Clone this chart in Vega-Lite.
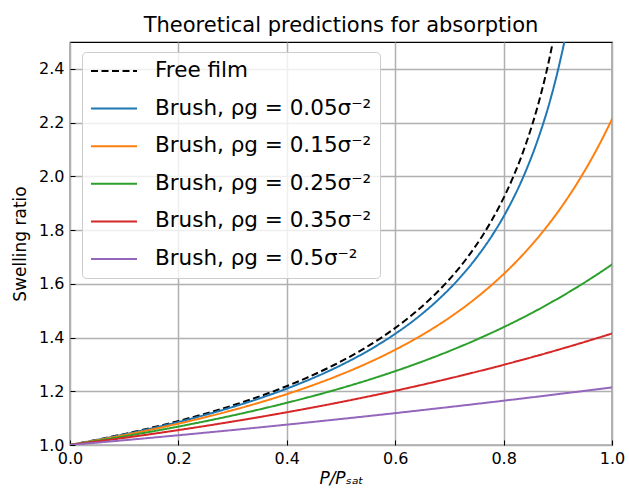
{
  "$schema": "https://vega.github.io/schema/vega-lite/v6.json",
  "width": 542,
  "height": 403,
  "autosize": {"type": "none"},
  "padding": {"left": 70, "top": 42, "right": 17, "bottom": 46},
  "background": "white",
  "config": {
    "font": "DejaVu Sans",
    "view": {"stroke": "black", "strokeWidth": 1.2},
    "axis": {
      "domain": false,
      "grid": true,
      "gridColor": "#b0b0b0",
      "gridWidth": 1.5,
      "tickColor": "black",
      "tickSize": -5,
      "tickWidth": 1,
      "labelFont": "DejaVu Sans",
      "labelFontSize": 16,
      "labelColor": "black",
      "titleFont": "DejaVu Sans",
      "titleFontSize": 17,
      "titleFontWeight": "normal",
      "titleColor": "black"
    },
    "legend": {
      "labelFont": "DejaVu Sans",
      "labelFontSize": 21.5,
      "labelColor": "black",
      "symbolType": "stroke",
      "symbolSize": 2116,
      "symbolStrokeWidth": 2,
      "labelOffset": 17,
      "clipHeight": 22,
      "rowPadding": 15.6,
      "padding": 8,
      "fillColor": "rgba(255,255,255,0.8)",
      "strokeColor": "#cccccc",
      "cornerRadius": 4,
      "labelLimit": 400
    },
    "title": {"font": "DejaVu Sans", "fontSize": 21, "fontWeight": "normal", "color": "black", "offset": 6}
  },
  "title": "Theoretical predictions for absorption",
  "datasets": {
    "curves": [
      {"series": "Free film", "x": 0, "y": 1},
      {"series": "Free film", "x": 0.0518, "y": 1.0204},
      {"series": "Free film", "x": 0.1258, "y": 1.0526},
      {"series": "Free film", "x": 0.1957, "y": 1.087},
      {"series": "Free film", "x": 0.2616, "y": 1.1236},
      {"series": "Free film", "x": 0.3236, "y": 1.1628},
      {"series": "Free film", "x": 0.3819, "y": 1.2048},
      {"series": "Free film", "x": 0.4366, "y": 1.25},
      {"series": "Free film", "x": 0.488, "y": 1.2987},
      {"series": "Free film", "x": 0.5361, "y": 1.3514},
      {"series": "Free film", "x": 0.581, "y": 1.4085},
      {"series": "Free film", "x": 0.6229, "y": 1.4706},
      {"series": "Free film", "x": 0.662, "y": 1.5385},
      {"series": "Free film", "x": 0.6983, "y": 1.6129},
      {"series": "Free film", "x": 0.732, "y": 1.6949},
      {"series": "Free film", "x": 0.7631, "y": 1.7857},
      {"series": "Free film", "x": 0.7918, "y": 1.8868},
      {"series": "Free film", "x": 0.8182, "y": 2.0},
      {"series": "Free film", "x": 0.8424, "y": 2.1277},
      {"series": "Free film", "x": 0.8645, "y": 2.2727},
      {"series": "Free film", "x": 0.8781, "y": 2.381},
      {"series": "Free film", "x": 0.8908, "y": 2.5},
      {"series": "Free film", "x": 0.9027, "y": 2.6316},
      {"series": "Free film", "x": 0.919, "y": 2.8571},

      {"series": "Brush, ρg = 0.05σ⁻²", "x": 0, "y": 1},
      {"series": "Brush, ρg = 0.05σ⁻²", "x": 0.0537, "y": 1.0204},
      {"series": "Brush, ρg = 0.05σ⁻²", "x": 0.1303, "y": 1.0526},
      {"series": "Brush, ρg = 0.05σ⁻²", "x": 0.2024, "y": 1.087},
      {"series": "Brush, ρg = 0.05σ⁻²", "x": 0.2701, "y": 1.1236},
      {"series": "Brush, ρg = 0.05σ⁻²", "x": 0.3337, "y": 1.1628},
      {"series": "Brush, ρg = 0.05σ⁻²", "x": 0.3934, "y": 1.2048},
      {"series": "Brush, ρg = 0.05σ⁻²", "x": 0.4493, "y": 1.25},
      {"series": "Brush, ρg = 0.05σ⁻²", "x": 0.5016, "y": 1.2987},
      {"series": "Brush, ρg = 0.05σ⁻²", "x": 0.5505, "y": 1.3514},
      {"series": "Brush, ρg = 0.05σ⁻²", "x": 0.5961, "y": 1.4085},
      {"series": "Brush, ρg = 0.05σ⁻²", "x": 0.6387, "y": 1.4706},
      {"series": "Brush, ρg = 0.05σ⁻²", "x": 0.6782, "y": 1.5385},
      {"series": "Brush, ρg = 0.05σ⁻²", "x": 0.715, "y": 1.6129},
      {"series": "Brush, ρg = 0.05σ⁻²", "x": 0.7491, "y": 1.6949},
      {"series": "Brush, ρg = 0.05σ⁻²", "x": 0.7807, "y": 1.7857},
      {"series": "Brush, ρg = 0.05σ⁻²", "x": 0.8099, "y": 1.8868},
      {"series": "Brush, ρg = 0.05σ⁻²", "x": 0.8368, "y": 2.0},
      {"series": "Brush, ρg = 0.05σ⁻²", "x": 0.8616, "y": 2.1277},
      {"series": "Brush, ρg = 0.05σ⁻²", "x": 0.8845, "y": 2.2727},
      {"series": "Brush, ρg = 0.05σ⁻²", "x": 0.8986, "y": 2.381},
      {"series": "Brush, ρg = 0.05σ⁻²", "x": 0.912, "y": 2.5},
      {"series": "Brush, ρg = 0.05σ⁻²", "x": 0.9247, "y": 2.6316},
      {"series": "Brush, ρg = 0.05σ⁻²", "x": 0.9424, "y": 2.8571},

      {"series": "Brush, ρg = 0.15σ⁻²", "x": 0, "y": 1},
      {"series": "Brush, ρg = 0.15σ⁻²", "x": 0.0571, "y": 1.0204},
      {"series": "Brush, ρg = 0.15σ⁻²", "x": 0.1388, "y": 1.0526},
      {"series": "Brush, ρg = 0.15σ⁻²", "x": 0.216, "y": 1.087},
      {"series": "Brush, ρg = 0.15σ⁻²", "x": 0.289, "y": 1.1236},
      {"series": "Brush, ρg = 0.15σ⁻²", "x": 0.3579, "y": 1.1628},
      {"series": "Brush, ρg = 0.15σ⁻²", "x": 0.4229, "y": 1.2048},
      {"series": "Brush, ρg = 0.15σ⁻²", "x": 0.4843, "y": 1.25},
      {"series": "Brush, ρg = 0.15σ⁻²", "x": 0.5423, "y": 1.2987},
      {"series": "Brush, ρg = 0.15σ⁻²", "x": 0.597, "y": 1.3514},
      {"series": "Brush, ρg = 0.15σ⁻²", "x": 0.6487, "y": 1.4085},
      {"series": "Brush, ρg = 0.15σ⁻²", "x": 0.6976, "y": 1.4706},
      {"series": "Brush, ρg = 0.15σ⁻²", "x": 0.7438, "y": 1.5385},
      {"series": "Brush, ρg = 0.15σ⁻²", "x": 0.7876, "y": 1.6129},
      {"series": "Brush, ρg = 0.15σ⁻²", "x": 0.8293, "y": 1.6949},
      {"series": "Brush, ρg = 0.15σ⁻²", "x": 0.869, "y": 1.7857},
      {"series": "Brush, ρg = 0.15σ⁻²", "x": 0.907, "y": 1.8868},
      {"series": "Brush, ρg = 0.15σ⁻²", "x": 0.9435, "y": 2.0},
      {"series": "Brush, ρg = 0.15σ⁻²", "x": 0.979, "y": 2.1277},
      {"series": "Brush, ρg = 0.15σ⁻²", "x": 0.9906, "y": 2.1739},
      {"series": "Brush, ρg = 0.15σ⁻²", "x": 0.9964, "y": 2.1978},
      {"series": "Brush, ρg = 0.15σ⁻²", "x": 1.0022, "y": 2.2222},

      {"series": "Brush, ρg = 0.25σ⁻²", "x": 0, "y": 1},
      {"series": "Brush, ρg = 0.25σ⁻²", "x": 0.0645, "y": 1.0204},
      {"series": "Brush, ρg = 0.25σ⁻²", "x": 0.1575, "y": 1.0526},
      {"series": "Brush, ρg = 0.25σ⁻²", "x": 0.2461, "y": 1.087},
      {"series": "Brush, ρg = 0.25σ⁻²", "x": 0.3307, "y": 1.1236},
      {"series": "Brush, ρg = 0.25σ⁻²", "x": 0.4114, "y": 1.1628},
      {"series": "Brush, ρg = 0.25σ⁻²", "x": 0.4887, "y": 1.2048},
      {"series": "Brush, ρg = 0.25σ⁻²", "x": 0.5627, "y": 1.25},
      {"series": "Brush, ρg = 0.25σ⁻²", "x": 0.6337, "y": 1.2987},
      {"series": "Brush, ρg = 0.25σ⁻²", "x": 0.7021, "y": 1.3514},
      {"series": "Brush, ρg = 0.25σ⁻²", "x": 0.7681, "y": 1.4085},
      {"series": "Brush, ρg = 0.25σ⁻²", "x": 0.8322, "y": 1.4706},
      {"series": "Brush, ρg = 0.25σ⁻²", "x": 0.8946, "y": 1.5385},
      {"series": "Brush, ρg = 0.25σ⁻²", "x": 0.9558, "y": 1.6129},
      {"series": "Brush, ρg = 0.25σ⁻²", "x": 0.9962, "y": 1.6667},
      {"series": "Brush, ρg = 0.25σ⁻²", "x": 1.0163, "y": 1.6949},

      {"series": "Brush, ρg = 0.35σ⁻²", "x": 0, "y": 1},
      {"series": "Brush, ρg = 0.35σ⁻²", "x": 0.0775, "y": 1.0204},
      {"series": "Brush, ρg = 0.35σ⁻²", "x": 0.1904, "y": 1.0526},
      {"series": "Brush, ρg = 0.35σ⁻²", "x": 0.2993, "y": 1.087},
      {"series": "Brush, ρg = 0.35σ⁻²", "x": 0.4048, "y": 1.1236},
      {"series": "Brush, ρg = 0.35σ⁻²", "x": 0.5072, "y": 1.1628},
      {"series": "Brush, ρg = 0.35σ⁻²", "x": 0.607, "y": 1.2048},
      {"series": "Brush, ρg = 0.35σ⁻²", "x": 0.7046, "y": 1.25},
      {"series": "Brush, ρg = 0.35σ⁻²", "x": 0.8006, "y": 1.2987},
      {"series": "Brush, ρg = 0.35σ⁻²", "x": 0.8955, "y": 1.3514},
      {"series": "Brush, ρg = 0.35σ⁻²", "x": 0.9898, "y": 1.4085},
      {"series": "Brush, ρg = 0.35σ⁻²", "x": 1.0213, "y": 1.4286},

      {"series": "Brush, ρg = 0.5σ⁻²", "x": 0, "y": 1},
      {"series": "Brush, ρg = 0.5σ⁻²", "x": 0.1146, "y": 1.0204},
      {"series": "Brush, ρg = 0.5σ⁻²", "x": 0.2282, "y": 1.0417},
      {"series": "Brush, ρg = 0.5σ⁻²", "x": 0.3411, "y": 1.0638},
      {"series": "Brush, ρg = 0.5σ⁻²", "x": 0.4536, "y": 1.087},
      {"series": "Brush, ρg = 0.5σ⁻²", "x": 0.566, "y": 1.1111},
      {"series": "Brush, ρg = 0.5σ⁻²", "x": 0.6784, "y": 1.1364},
      {"series": "Brush, ρg = 0.5σ⁻²", "x": 0.7914, "y": 1.1628},
      {"series": "Brush, ρg = 0.5σ⁻²", "x": 0.9051, "y": 1.1905},
      {"series": "Brush, ρg = 0.5σ⁻²", "x": 1.02, "y": 1.2195}
    ]
  },
  "data": {"name": "curves"},
  "mark": {"type": "line", "interpolate": "monotone", "clip": true, "strokeWidth": 2},
  "encoding": {
    "x": {
      "field": "x",
      "type": "quantitative",
      "scale": {"domain": [0, 1], "nice": false, "zero": false},
      "axis": {"title": "P/Pₛₐₜ", "titleFontStyle": "italic", "values": [0, 0.2, 0.4, 0.6, 0.8, 1.0], "format": ".1f", "labelPadding": 10, "titlePadding": 4, "labelFlush": false}
    },
    "y": {
      "field": "y",
      "type": "quantitative",
      "scale": {"domain": [1, 2.5], "nice": false, "zero": false},
      "axis": {"title": "Swelling ratio", "values": [1.0, 1.2, 1.4, 1.6, 1.8, 2.0, 2.2, 2.4], "format": ".1f", "labelPadding": 11, "titlePadding": 9, "labelFlush": false}
    },
    "color": {
      "field": "series",
      "type": "nominal",
      "scale": {
        "domain": ["Free film", "Brush, ρg = 0.05σ⁻²", "Brush, ρg = 0.15σ⁻²", "Brush, ρg = 0.25σ⁻²", "Brush, ρg = 0.35σ⁻²", "Brush, ρg = 0.5σ⁻²"],
        "range": ["#000000", "#1f77b4", "#ff7f0e", "#2ca02c", "#d62728", "#9467bd"]
      },
      "legend": {"title": null, "orient": "none", "legendX": 12, "legendY": 10}
    },
    "strokeDash": {
      "field": "series",
      "type": "nominal",
      "scale": {
        "domain": ["Free film", "Brush, ρg = 0.05σ⁻²", "Brush, ρg = 0.15σ⁻²", "Brush, ρg = 0.25σ⁻²", "Brush, ρg = 0.35σ⁻²", "Brush, ρg = 0.5σ⁻²"],
        "range": [[7, 3.5], [1, 0], [1, 0], [1, 0], [1, 0], [1, 0]]
      },
      "legend": {"title": null, "orient": "none", "legendX": 12, "legendY": 10}
    }
  }
}
